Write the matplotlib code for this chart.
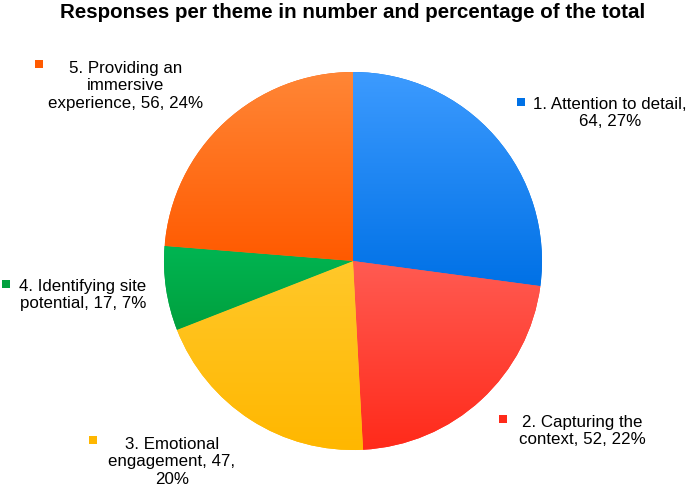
import numpy as np
import matplotlib
matplotlib.use('Agg')
import matplotlib.pyplot as plt
from matplotlib.colors import to_rgb

plt.rcParams['font.family'] = ['Liberation Sans', 'DejaVu Sans']

###############################################################################
# Data
themes = ['1. Attention to detail', '2. Capturing the context',
          '3. Emotional engagement', '4. Identifying site potential',
          '5. Providing an immersive experience']
counts = [64, 52, 47, 17, 56]
# label text as it is wrapped in the reference
label_texts = ['1. Attention to detail,\n64, 27%',
               '2. Capturing the\ncontext, 52, 22%',
               '3. Emotional\nengagement, 47,\n20%',
               '4. Identifying site\npotential, 17, 7%',
               '5. Providing an\nimmersive\nexperience, 56, 24%']
# gradient colours per slice (top, bottom)
top_colors = ['#3d9bff', '#ff5b52', '#ffc82a', '#00b552', '#ff8636']
bottom_colors = ['#0071e6', '#ff2a1a', '#ffb700', '#00a03e', '#ff5a00']

###############################################################################
# Layout (pixel space, y up)
W, H = 692, 489
center = (353, H - 262)
radius = 189
# text centre (x, y from top) and marker position for each label
text_pos = [(610, 113), (582, 431), (172, 462), (83, 295), (126, 86)]
marker_pos = [(521, 103), (503, 420), (93, 441), (6, 285), (39, 65)]

fig = plt.figure(figsize=(W / 100, H / 100), dpi=100)
ax = fig.add_axes([0, 0, 1, 1])

wedges, _ = ax.pie(counts, startangle=90, counterclock=False,
                   center=center, radius=radius, colors=top_colors,
                   wedgeprops=dict(linewidth=0), frame=True)
ax.set_xlim(0, W)
ax.set_ylim(0, H)
ax.set_aspect('equal')
ax.axis('off')

# vertical gradient inside each wedge
n = 256
for w, c_top, c_bot in zip(wedges, top_colors, bottom_colors):
    bb = w.get_path().get_extents()
    t = np.linspace(0, 1, n)[:, None]
    grad = (1 - t) * np.array(to_rgb(c_bot)) + t * np.array(to_rgb(c_top))
    grad = grad[:, None, :]
    im = ax.imshow(grad, extent=[bb.x0, bb.x1, bb.y0, bb.y1], origin='lower',
                   aspect='auto', interpolation='bilinear', zorder=2)
    im.set_clip_path(w)
    w.set_facecolor(c_bot)

for txt, (tx, ty), (mx, my), col in zip(label_texts, text_pos, marker_pos, bottom_colors):
    ax.text(tx, H - ty, txt, ha='center', va='center', multialignment='center',
            fontsize=12.2, color='black', zorder=5)
    ax.plot(mx, H - my, marker='s', markersize=5.2, color=col,
            markeredgewidth=0, zorder=5)

ax.text(353, H - 13, 'Responses per theme in number and percentage of the total',
        ha='center', va='center', fontsize=14.8, fontweight='bold', color='black')

fig.savefig('out.png', dpi=100)
